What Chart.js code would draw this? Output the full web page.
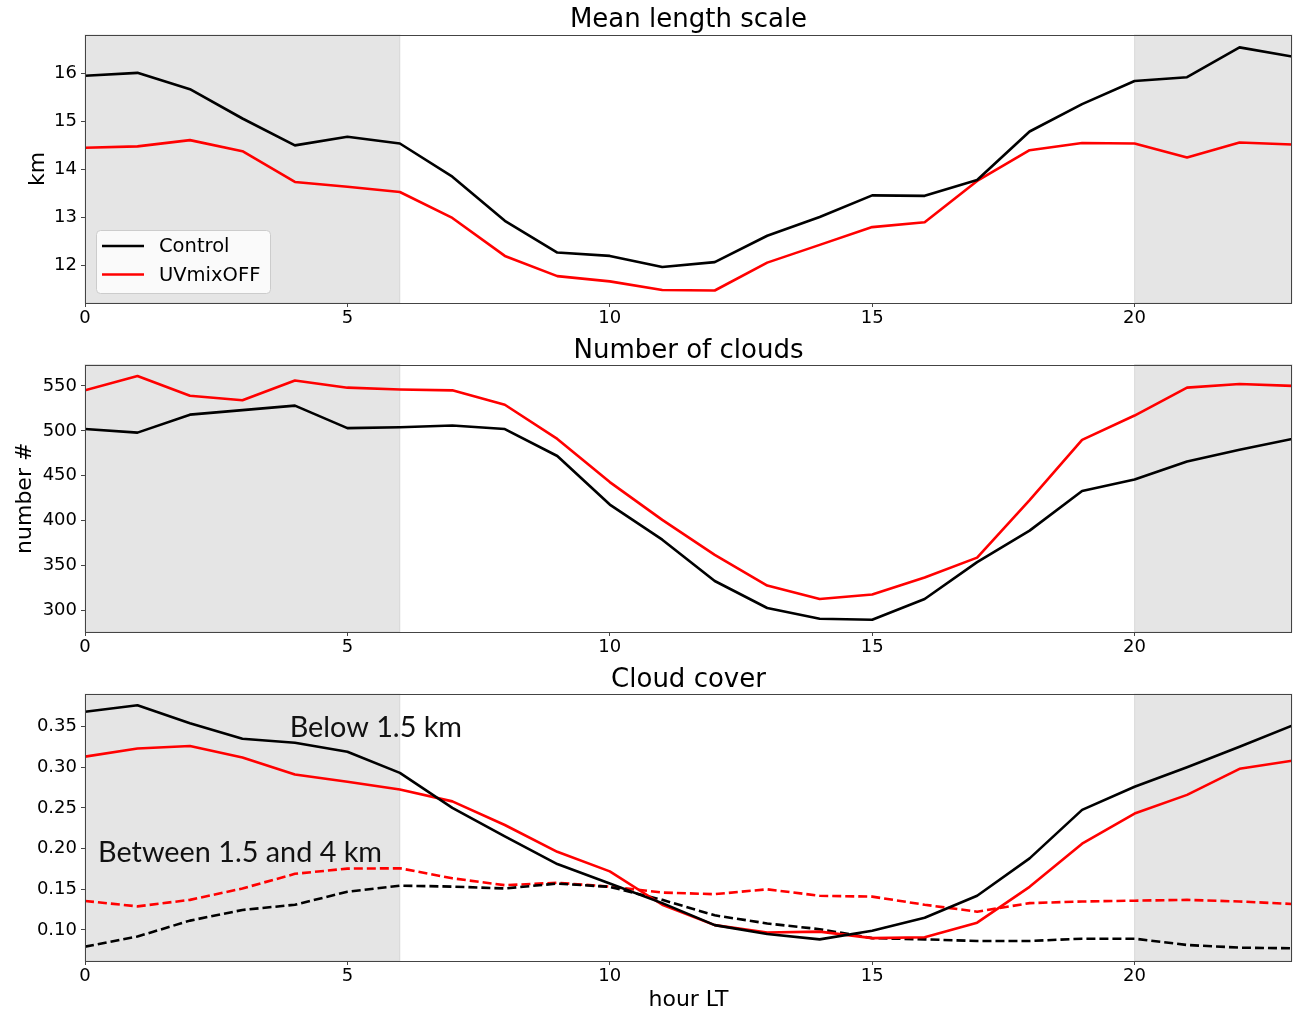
<!DOCTYPE html>
<html><head><meta charset="utf-8">
<script src="https://cdn.jsdelivr.net/npm/chart.js@4.4.0/dist/chart.umd.min.js"></script>
<style>
html,body{margin:0;padding:0;background:#fff;}
#wrap{position:relative;width:1299px;height:1012px;overflow:hidden;background:#fff;}
canvas{position:absolute;left:0;}
</style></head><body>
<div id="wrap">
<canvas id="c1" width="1299" height="335" style="top:0px;width:1299px;height:335px"></canvas>
<canvas id="c2" width="1299" height="329" style="top:335px;width:1299px;height:329px"></canvas>
<canvas id="c3" width="1299" height="348" style="top:664px;width:1299px;height:348px"></canvas>
</div>
<script>
// ---------------- data ----------------
const hours = [0,1,2,3,4,5,6,7,8,9,10,11,12,13,14,15,16,17,18,19,20,21,22,23];
const seriesNames = ['Control','UVmixOFF'];

const lengthControl = [15.95,16.01,15.67,15.06,14.50,14.68,14.54,13.85,12.93,12.27,12.20,11.97,12.07,12.62,13.01,13.46,13.45,13.78,14.79,15.36,15.84,15.92,16.54,16.35];
const lengthUVmixOFF = [14.45,14.48,14.61,14.38,13.74,13.64,13.53,12.99,12.20,11.78,11.67,11.49,11.48,12.06,12.43,12.80,12.90,13.76,14.40,14.55,14.54,14.25,14.56,14.52];

const cloudsControl = [502,498,518,523,528,503,504,506,502,472,418,379,333,303,291,290,313,354,389,433,446,466,479,491];
const cloudsUVmixOFF = [545,561,539,534,556,548,546,545,529,491,443,401,362,328,313,318,337,359,423,490,517,548,552,550];

const coverLowControl = [0.368,0.376,0.354,0.335,0.330,0.319,0.293,0.250,0.215,0.181,0.157,0.133,0.106,0.095,0.0885,0.099,0.115,0.142,0.188,0.2475,0.276,0.300,0.325,0.351];
const coverLowUVmixOFF = [0.313,0.323,0.326,0.312,0.291,0.282,0.2725,0.258,0.229,0.196,0.172,0.131,0.106,0.097,0.098,0.090,0.091,0.109,0.153,0.206,0.243,0.266,0.298,0.308];
const coverMidControl = [0.0795,0.092,0.1115,0.1246,0.131,0.147,0.1545,0.1533,0.151,0.157,0.153,0.137,0.118,0.108,0.101,0.090,0.0885,0.0865,0.0865,0.0893,0.0893,0.0816,0.0783,0.0775];
const coverMidUVmixOFF = [0.1357,0.129,0.137,0.151,0.169,0.1754,0.1758,0.1635,0.155,0.158,0.1533,0.146,0.144,0.150,0.142,0.141,0.131,0.1225,0.133,0.135,0.136,0.137,0.135,0.132];

const xTicks = [0,5,10,15,20];
const yTicksLength = [12,13,14,15,16];
const yTicksClouds = [300,350,400,450,500,550];
const yTicksCover = [0.10,0.15,0.20,0.25,0.30,0.35];
const nightSpans = [[0,6],[20,23]];
const annotationTexts = ['Below 1.5 km','Between 1.5 and 4 km'];

// ---------------- helpers ----------------
Chart.defaults.font.family = 'DejaVu Sans';
Chart.defaults.color = '#000';

const pts = arr => hours.map((h,i)=>({x:h,y:arr[i]}));

const shadePlugin = {
  id:'shade',
  beforeDatasetsDraw(chart){
    const {ctx, chartArea:a, scales:{x}} = chart;
    ctx.save();
    nightSpans.forEach(([s,e])=>{
      const x0 = x.getPixelForValue(s), x1 = x.getPixelForValue(e);
      ctx.fillStyle = '#e5e5e5';
      ctx.fillRect(x0, a.top, x1-x0, a.bottom-a.top);
      ctx.strokeStyle = 'rgba(128,128,128,0.2)';
      ctx.lineWidth = 1;
      ctx.strokeRect(x0, a.top, x1-x0, a.bottom-a.top);
    });
    ctx.restore();
  }
};
const framePlugin = {
  id:'frame',
  afterDatasetsDraw(chart){
    const {ctx, chartArea:a} = chart;
    ctx.save();
    ctx.strokeStyle = '#444';
    ctx.lineWidth = 1;
    ctx.strokeRect(Math.round(a.left)+0.5, Math.round(a.top)+0.5, Math.round(a.right-a.left)-1, Math.round(a.bottom-a.top));
    ctx.restore();
  }
};
const boxLegendPlugin = {
  id:'boxLegend',
  afterDatasetsDraw(chart, args, opts){
    if(!opts || !opts.show) return;
    const {ctx, chartArea:a} = chart;
    const x0 = a.left + 11, w = 174, h = 63, y0 = a.bottom - 10 - h;
    ctx.save();
    ctx.beginPath();
    ctx.roundRect(x0+0.5, y0+0.5, w, h, 4);
    ctx.fillStyle = 'rgba(255,255,255,0.8)';
    ctx.fill();
    ctx.strokeStyle = '#cccccc';
    ctx.lineWidth = 1;
    ctx.stroke();
    ctx.font = '19.5px "DejaVu Sans"';
    ctx.textBaseline = 'middle';
    ctx.textAlign = 'left';
    chart.data.datasets.forEach((ds,i)=>{
      const cy = y0 + 16 + i*28.5;
      ctx.beginPath();
      ctx.moveTo(x0+6, cy); ctx.lineTo(x0+48, cy);
      ctx.strokeStyle = ds.borderColor; ctx.lineWidth = ds.borderWidth;
      ctx.stroke();
      ctx.fillStyle = '#000';
      ctx.fillText(ds.label, x0+63, cy+1);
    });
    ctx.restore();
  }
};
const annotatePlugin = {
  id:'annotate',
  afterDatasetsDraw(chart, args, opts){
    if(!opts || !opts.items) return;
    const {ctx, scales:{x,y}} = chart;
    ctx.save();
    ctx.font = '28.8px Lato';
    ctx.fillStyle = '#111';
    ctx.textBaseline = 'middle';
    ctx.textAlign = 'left';
    opts.items.forEach(it=>{
      ctx.fillText(it.text, x.getPixelForValue(it.x), y.getPixelForValue(it.y));
    });
    ctx.restore();
  }
};

function xScale(height, withTitle){
  return {
    type:'linear', min:0, max:23,
    afterBuildTicks: s => { s.ticks = xTicks.map(v=>({value:v})); },
    afterFit: s => { s.height = height; },
    ticks:{autoSkip:false, maxRotation:0, font:{size:18, lineHeight:1.0}, padding:2, color:'#000'},
    grid:{drawOnChartArea:false, drawTicks:true, tickLength:4, color:'#444'},
    border:{display:false},
    title: withTitle ? {display:true, text:'hour LT', font:{size:22, lineHeight:1.0}, padding:{top:0,bottom:1}, color:'#000'} : {display:false}
  };
}
function yScale(min, max, ticks, fmt, title, titlePad){
  return {
    type:'linear', min, max,
    afterBuildTicks: s => { s.ticks = ticks.map(v=>({value:v})); },
    afterFit: s => { s.width = 85; },
    ticks:{font:{size:18, lineHeight:1.0}, padding:4, color:'#000', callback: v => fmt(v)},
    grid:{drawOnChartArea:false, drawTicks:true, tickLength:4, color:'#444'},
    border:{display:false},
    title: title ? {display:true, text:title, font:{size:22, lineHeight:1.2}, padding:{top:titlePad, bottom:0}, color:'#000'} : {display:false}
  };
}
function lineDs(label, arr, color, dashed){
  return {label, data:pts(arr), borderColor:color, backgroundColor:color, borderWidth:2.6,
    pointRadius:0, pointHoverRadius:0, tension:0, fill:false, borderDash: dashed ? [9,4] : [],
    borderCapStyle:'butt', borderJoinStyle:'round'};
}
function baseOpts(titleText, titleFont, titlePad, xs, ys, extraPlugins){
  return {
    responsive:false, animation:false, devicePixelRatio:1,
    layout:{padding:{left:0,right:7,top:0,bottom:0}},
    scales:{x:xs, y:ys},
    plugins:Object.assign({
      legend:{display:false},
      tooltip:{enabled:false},
      title:{display:true, fullSize:false, text:titleText, color:'#000', font:titleFont, padding:titlePad}
    }, extraPlugins||{})
  };
}

// ---------------- chart 1 ----------------
new Chart(document.getElementById('c1'), {
  type:'line',
  data:{datasets:[
    lineDs(seriesNames[0], lengthControl, '#000000', false),
    lineDs(seriesNames[1], lengthUVmixOFF, '#ff0000', false)
  ]},
  options: baseOpts('Mean length scale', {size:26, lineHeight:1.15, weight:'normal'}, {top:5,bottom:0},
    xScale(32,false), yScale(11.22, 16.80, yTicksLength, v=>String(v), 'km', 25),
    {boxLegend:{show:true}}),
  plugins:[shadePlugin, framePlugin, boxLegendPlugin]
});

// ---------------- chart 2 ----------------
new Chart(document.getElementById('c2'), {
  type:'line',
  data:{datasets:[
    lineDs(seriesNames[0], cloudsControl, '#000000', false),
    lineDs(seriesNames[1], cloudsUVmixOFF, '#ff0000', false)
  ]},
  options: baseOpts('Number of clouds', {size:26, lineHeight:1.06, weight:'normal'}, {top:2,bottom:0},
    xScale(32,false), yScale(276.3, 573.7, yTicksClouds, v=>String(v), 'number #', 12)),
  plugins:[shadePlugin, framePlugin]
});

// ---------------- chart 3 ----------------
new Chart(document.getElementById('c3'), {
  type:'line',
  data:{datasets:[
    lineDs(seriesNames[0]+' <1.5 km', coverLowControl, '#000000', false),
    lineDs(seriesNames[1]+' <1.5 km', coverLowUVmixOFF, '#ff0000', false),
    lineDs(seriesNames[0]+' 1.5-4 km', coverMidControl, '#000000', true),
    lineDs(seriesNames[1]+' 1.5-4 km', coverMidUVmixOFF, '#ff0000', true)
  ]},
  options: baseOpts('Cloud cover', {size:26, lineHeight:1.08, weight:'normal'}, {top:2,bottom:0},
    xScale(51,true), yScale(0.0619, 0.3898, yTicksCover, v=>Number(v).toFixed(2), null, 0),
    {annotate:{items:[
      {text:annotationTexts[0], x:3.9, y:0.3484},
      {text:annotationTexts[1], x:0.25, y:0.195}
    ]}}),
  plugins:[shadePlugin, framePlugin, annotatePlugin]
});
</script>
</body></html>
